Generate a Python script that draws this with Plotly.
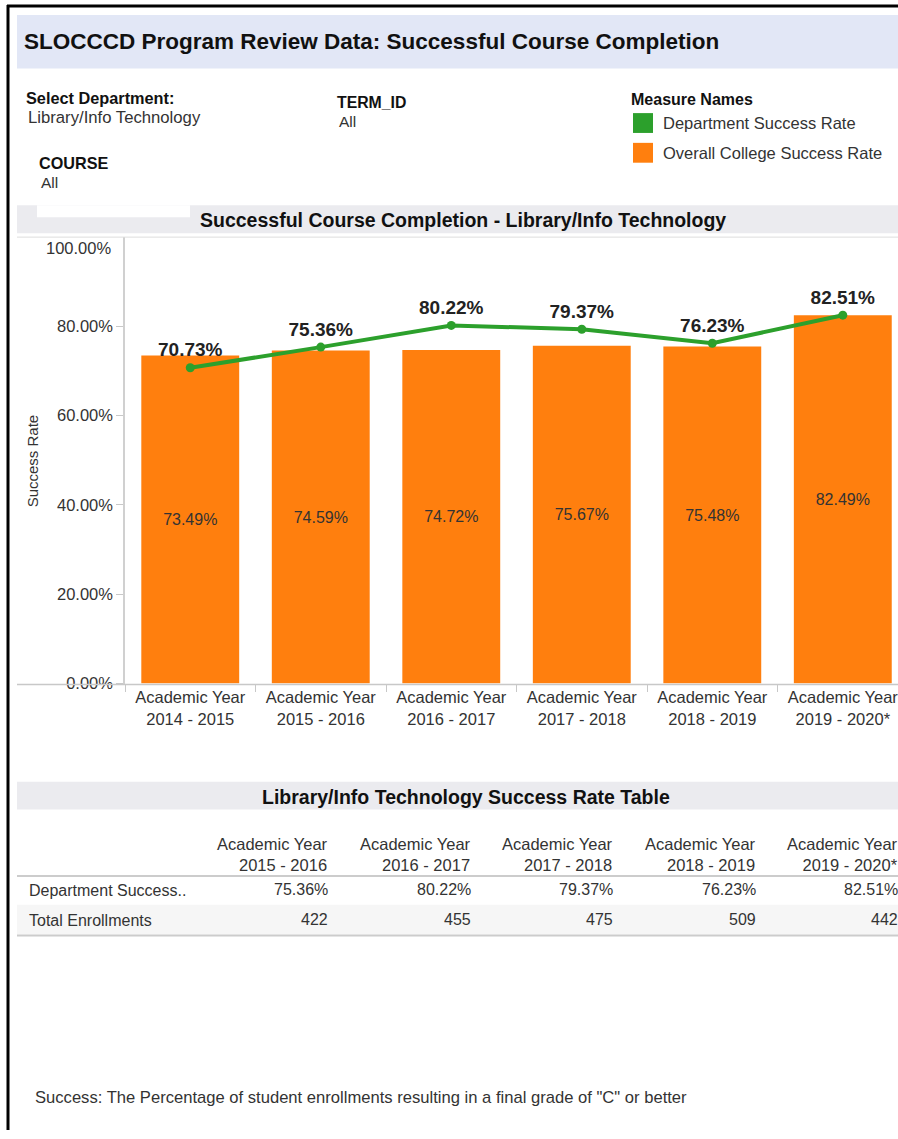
import plotly.graph_objects as go

# ---------------- data ----------------
years = ["Academic Year<br>2014 - 2015", "Academic Year<br>2015 - 2016",
         "Academic Year<br>2016 - 2017", "Academic Year<br>2017 - 2018",
         "Academic Year<br>2018 - 2019", "Academic Year<br>2019 - 2020*"]
college_rate = [73.49, 74.59, 74.72, 75.67, 75.48, 82.49]
dept_rate = [70.73, 75.36, 80.22, 79.37, 76.23, 82.51]

table_years = ["Academic Year<br>2015 - 2016", "Academic Year<br>2016 - 2017",
               "Academic Year<br>2017 - 2018", "Academic Year<br>2018 - 2019",
               "Academic Year<br>2019 - 2020*"]
table_dept_rate = [75.36, 80.22, 79.37, 76.23, 82.51]
table_enrollments = [422, 455, 475, 509, 442]
table_row_labels = ["Department Success..", "Total Enrollments"]

y_ticks = [0, 20, 40, 60, 80, 100]

# ---------------- styles ----------------
W, H = 898, 1139
ORANGE = "#ff7f0e"
GREEN = "#2ca02c"
FONT = "Liberation Sans, Arial, sans-serif"
TXT = "#333333"


def xp(x):
    return x / W


def yp(y):
    return 1 - y / H


fig = go.Figure()

fig.add_trace(go.Bar(
    x=years, y=college_rate, name="Overall College Success Rate",
    marker=dict(color=ORANGE, line=dict(width=0)),
    text=[f"{v:.2f}%" for v in college_rate],
    textposition="inside", insidetextanchor="middle",
    textfont=dict(family=FONT, size=16, color=TXT),
    cliponaxis=False, showlegend=False,
))
fig.add_trace(go.Scatter(
    x=years, y=dept_rate, name="Department Success Rate",
    mode="lines+markers+text",
    line=dict(color=GREEN, width=4),
    marker=dict(color=GREEN, size=9),
    text=[f"<b>{v:.2f}%</b>" for v in dept_rate],
    textposition="top center",
    textfont=dict(family=FONT, size=19, color="#222222"),
    cliponaxis=False, showlegend=False,
))

shapes = []
annotations = []

# outer frame
shapes.append(dict(type="line", xref="paper", yref="paper", x0=xp(8), x1=xp(8),
                   y0=yp(5), y1=yp(1139), line=dict(color="black", width=3)))
shapes.append(dict(type="line", xref="paper", yref="paper", x0=xp(7), x1=xp(898),
                   y0=yp(6), y1=yp(6), line=dict(color="black", width=3)))

# title band
shapes.append(dict(type="rect", xref="paper", yref="paper", x0=xp(17), x1=xp(898),
                   y0=yp(69), y1=yp(15), fillcolor="#e2e7f6", line=dict(width=0), layer="below"))
annotations.append(dict(text="<b>SLOCCCD Program Review Data: Successful Course Completion</b>",
                        x=xp(22), y=yp(42), xref="paper", yref="paper", xanchor="left",
                        yanchor="middle", showarrow=False,
                        font=dict(family=FONT, size=22.5, color="#111111")))


def label(text, x, y, size=16, bold=False, color=TXT, anchor="left"):
    annotations.append(dict(text=f"<b>{text}</b>" if bold else text, x=xp(x), y=yp(y),
                            xref="paper", yref="paper", xanchor=anchor, yanchor="middle",
                            showarrow=False, font=dict(family=FONT, size=size, color=color)))


# filters
label("Select Department:", 24, 99, size=16.3, bold=True, color="#111111")
label("Library/Info Technology", 26, 118, size=16.7)
label("TERM_ID", 335, 103, size=15.8, bold=True, color="#111111")
label("All", 337, 122, size=15.5)
label("COURSE", 37, 164, size=16.2, bold=True, color="#111111")
label("All", 39, 184, size=15.5)

# legend
label("Measure Names", 629, 100, size=16, bold=True, color="#111111")
shapes.append(dict(type="rect", xref="paper", yref="paper", x0=xp(633), x1=xp(653),
                   y0=yp(134), y1=yp(114), fillcolor=GREEN, line=dict(width=0)))
shapes.append(dict(type="rect", xref="paper", yref="paper", x0=xp(633), x1=xp(653),
                   y0=yp(164), y1=yp(144), fillcolor=ORANGE, line=dict(width=0)))
label("Department Success Rate", 661, 124, size=16.5)
label("Overall College Success Rate", 661, 154, size=16.5)

# chart title band
shapes.append(dict(type="rect", xref="paper", yref="paper", x0=xp(17), x1=xp(898),
                   y0=yp(235), y1=yp(207), fillcolor="#ebebef", line=dict(width=0), layer="below"))
shapes.append(dict(type="rect", xref="paper", yref="paper", x0=xp(37), x1=xp(190),
                   y0=yp(219), y1=yp(207), fillcolor="white", line=dict(width=0), layer="below"))
shapes.append(dict(type="line", xref="paper", yref="paper", x0=xp(17), x1=xp(898),
                   y0=yp(239), y1=yp(239), line=dict(color="#dddddd", width=1)))
label("Successful Course Completion - Library/Info Technology", 463, 222, size=19.5,
      bold=True, color="#111111", anchor="center")

# y axis title
annotations.append(dict(text="Success Rate", x=xp(32), y=yp(465), xref="paper", yref="paper",
                        textangle=-90, showarrow=False, xanchor="center", yanchor="middle",
                        font=dict(family=FONT, size=15, color=TXT)))

# top tick label (drawn slightly inside the plot, as in the original)
annotations.append(dict(text=f"{y_ticks[-1]:.2f}%", x=xp(113), y=y_ticks[-1], xref="paper",
                        yref="y", xanchor="right", yanchor="middle", yshift=-11,
                        showarrow=False, font=dict(family=FONT, size=16.5, color=TXT)))

# x axis baseline across the sheet
shapes.append(dict(type="line", xref="paper", yref="paper", x0=xp(17), x1=xp(898),
                   y0=yp(690), y1=yp(690), line=dict(color="#c8c8c8", width=1.5)))

# table
shapes.append(dict(type="rect", xref="paper", yref="paper", x0=xp(17), x1=xp(898),
                   y0=yp(816), y1=yp(788), fillcolor="#ebebef", line=dict(width=0), layer="below"))
label("Library/Info Technology Success Rate Table", 466, 803, size=19.5, bold=True,
      color="#111111", anchor="center")
shapes.append(dict(type="rect", xref="paper", yref="paper", x0=xp(17), x1=xp(898),
                   y0=yp(942), y1=yp(912), fillcolor="#f6f6f6", line=dict(width=0), layer="below"))
shapes.append(dict(type="line", xref="paper", yref="paper", x0=xp(17), x1=xp(898),
                   y0=yp(883), y1=yp(883), line=dict(color="#cccccc", width=2)))
shapes.append(dict(type="line", xref="paper", yref="paper", x0=xp(17), x1=xp(898),
                   y0=yp(943), y1=yp(943), line=dict(color="#cccccc", width=2)))

col_right0, col_step = 330, 142.5
for i, yr in enumerate(table_years):
    xr = col_right0 + i * col_step
    annotations.append(dict(text=yr, x=xp(xr), y=yp(861), xref="paper", yref="paper",
                            xanchor="right", yanchor="middle", align="right", showarrow=False,
                            font=dict(family=FONT, size=16.5, color=TXT)))
    label(f"{table_dept_rate[i]:.2f}%", xr, 897, size=16, anchor="right")
    label(f"{table_enrollments[i]}", xr, 927, size=16, anchor="right")
label(table_row_labels[0], 27, 898, size=16)
label(table_row_labels[1], 27, 928, size=16)

# footnote
label('Success: The Percentage of student enrollments resulting in a final grade of "C" or better',
      33, 1106, size=16.6)

n = len(years)
fig.update_layout(
    width=W, height=H,
    margin=dict(l=0, r=0, t=0, b=0),
    paper_bgcolor="white", plot_bgcolor="white",
    bargap=0.25,
    font=dict(family=FONT, color=TXT),
    shapes=shapes, annotations=annotations,
    uniformtext=dict(minsize=16, mode="show"),
    xaxis=dict(domain=[xp(125), 1], type="category", range=[-0.5, n - 0.577],
               showline=False, showgrid=False, zeroline=False,
               ticks="outside", tickson="boundaries", ticklen=7, tickcolor="#c8c8c8",
               ticklabelstandoff=2,
               tickfont=dict(family=FONT, size=16.5, color=TXT)),
    yaxis=dict(domain=[yp(689), yp(239)], range=[0, 100], tickvals=y_ticks[:-1],
               ticktext=[f"{v:.2f}%" for v in y_ticks[:-1]],
               showline=True, linecolor="#d0d0d0", linewidth=1.5,
               showgrid=False, zeroline=False, ticks="outside", ticklen=7, tickcolor="#c8c8c8",
               tickfont=dict(family=FONT, size=16.5, color=TXT)),
)

fig.write_html(
    "out.html",
    config={"displayModeBar": False},
    post_script=(
        "document.body.style.margin='0px';document.body.style.padding='0px';"
        "document.documentElement.style.overflow='hidden';document.body.style.overflow='hidden';"
        "var d=document.getElementById('{plot_id}');"
        "d.style.position='absolute';d.style.top='0px';d.style.left='0px';"
    ),
)
